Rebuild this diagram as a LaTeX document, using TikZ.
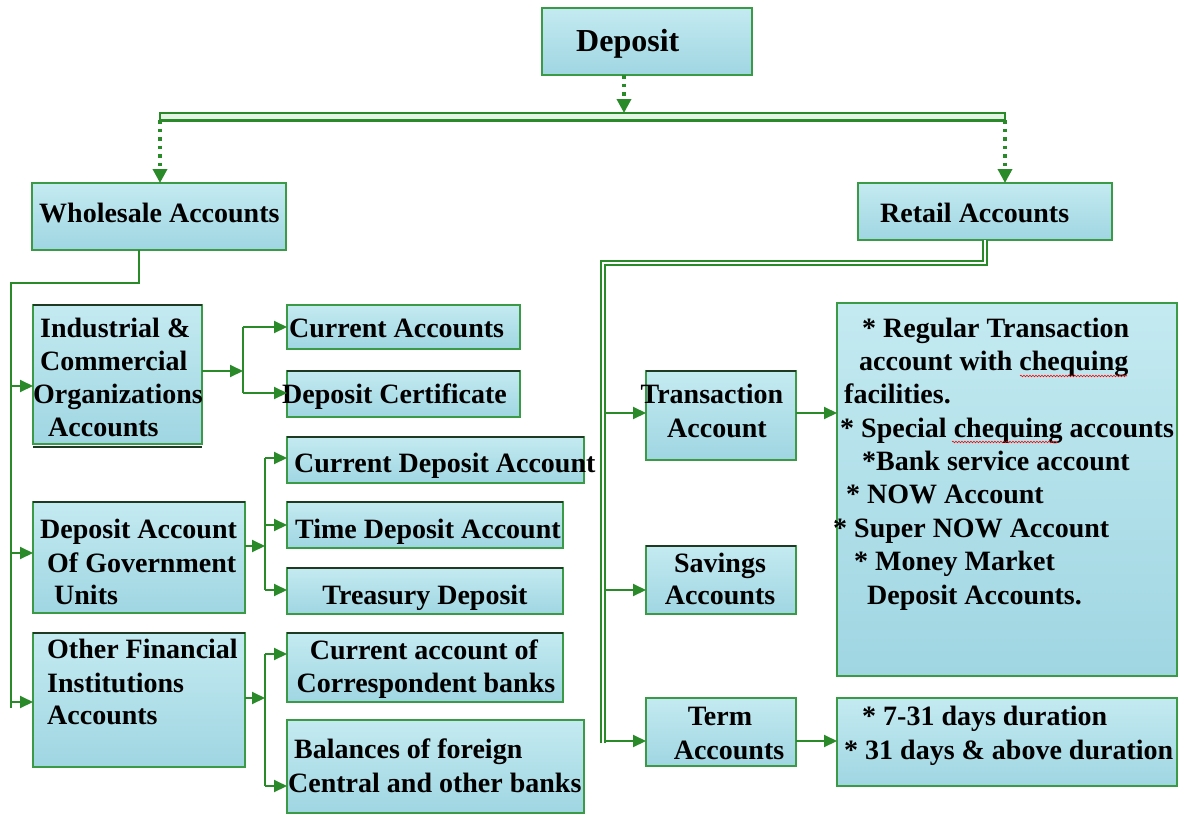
\documentclass[tikz,border=0pt]{standalone}
\usepackage{fontspec}
\setmainfont{Liberation Serif}
\usetikzlibrary{arrows.meta,fit,decorations.pathmorphing}
\definecolor{lineg}{HTML}{2A8A2A}
\definecolor{boxg}{HTML}{3A9A46}
\definecolor{darkedge}{HTML}{1E3A22}
\definecolor{aquaT}{HTML}{C4EAF1}
\definecolor{aquaB}{HTML}{9FD6E2}
\definecolor{barfill}{HTML}{E4F4E4}
\newcommand\tl[4]{\node[txt,anchor=base west] (#1) at (#2,#3) {#4};}
\newcommand\tc[4]{\node[txt,anchor=base] (#1) at (#2,#3) {#4};}
\begin{document}
\begin{tikzpicture}[x=1pt,y=-1pt,
 box/.style={draw=boxg,line width=1.8pt,top color=aquaT,bottom color=aquaB,inner sep=0pt,outer sep=0pt},
 txt/.style={font=\fontsize{28}{33}\selectfont\bfseries,inner sep=0pt,text=black},
 conn/.style={draw=lineg,line width=2pt},
 arr/.style={conn,-{Triangle[length=13pt,width=12pt]}},
 darr/.style={draw=lineg,line width=3.5pt,dash pattern=on 3.5pt off 5pt,-{Triangle[length=14pt,width=14pt]}},
 dbl/.style={draw=lineg,double=white,line width=1.5pt,double distance=2.5pt},
 topedge/.style={draw=darkedge,line width=2pt},
 wavy/.style={draw=red,line width=0.6pt,decorate,decoration={snake,amplitude=0.8pt,segment length=3pt}}]
\useasboundingbox (0,0) rectangle (1180,816);

% boxes
\node[box,fit={(542,8)(752,75)}] (dep) {};
\node[draw=lineg,line width=1.5pt,fill=barfill,inner sep=0pt,outer sep=0pt,fit={(160,113)(1005,120)}] (bar) {};
\draw[draw=lineg,line width=3pt] (bar.south west) -- (bar.south east);
\node[box,fit={(32,183)(286,250)}] (ws) {};
\node[box,fit={(858,183)(1112,240)}] (rt) {};
\node[box,fit={(33,305)(202,444)}] (ind) {};
\node[box,fit={(287,305)(520,349)}] (ca) {};
\node[box,fit={(287,371)(520,417)}] (dc) {};
\node[box,fit={(287,437)(584,483)}] (cda) {};
\node[box,fit={(287,502)(563,548)}] (tda) {};
\node[box,fit={(33,502)(245,613)}] (gov) {};
\node[box,fit={(287,568)(563,614)}] (td) {};
\node[box,fit={(33,633)(245,767)}] (oth) {};
\node[box,fit={(287,633)(563,702)}] (cacb) {};
\node[box,fit={(287,720)(584,813)}] (bal) {};
\node[box,fit={(646,371)(796,460)}] (tr) {};
\node[box,fit={(837,303)(1177,676)}] (big) {};
\node[box,fit={(646,546)(796,614)}] (sav) {};
\node[box,fit={(646,698)(796,766)}] (term) {};
\node[box,fit={(837,698)(1177,786)}] (termd) {};

% darker top edges
\foreach \b in {ind,dc,cda,tda,td,gov,oth,cacb,tr,sav}
  \draw[topedge] (\b.north west) -- (\b.north east);
\draw[topedge] ([yshift=-3pt]ind.south west) -- ([yshift=-3pt]ind.south east);

% texts
\node[txt,font=\fontsize{32}{36}\selectfont\bfseries,anchor=base west] (tdep) at (576,52) {Deposit};
\tl{tws}{39}{222}{Wholesale Accounts}
\tl{trt}{880}{222}{Retail Accounts}
\tl{tind1}{40}{337}{Industrial \&}
\tl{tind2}{40}{370}{Commercial}
\tl{tind3}{33}{403}{Organizations}
\tl{tind4}{48}{436}{Accounts}
\tl{tca}{289}{337}{Current Accounts}
\tl{tdc}{282}{403}{Deposit Certificate}
\tl{tcda}{294}{472}{Current Deposit Account}
\tl{ttda}{295}{538}{Time Deposit Account}
\tl{tgov1}{40}{538}{Deposit Account}
\tl{tgov2}{47}{572}{Of Government}
\tl{tgov3}{54}{604}{Units}
\tc{ttd}{425}{604}{Treasury Deposit}
\tl{toth1}{47}{658}{Other Financial}
\tl{toth2}{47}{692}{Institutions}
\tl{toth3}{47}{724}{Accounts}
\tc{tcacb1}{424}{659}{Current account of}
\tc{tcacb2}{426}{692}{Correspondent banks}
\tl{tbal1}{294}{758}{Balances of foreign}
\tl{tbal2}{288}{792}{Central and other banks}
\tc{ttr1}{712}{403}{Transaction}
\tc{ttr2}{717}{437}{Account}
\tl{tbig1}{862}{337}{* Regular Transaction}
\tl{tbig2}{859}{370}{account with chequing}
\tl{tbig3}{844}{403}{facilities.}
\tl{tbig4}{840}{437}{* Special chequing accounts}
\tl{tbig5}{862}{470}{*Bank service account}
\tl{tbig6}{846}{503}{* NOW Account}
\tl{tbig7}{833}{537}{* Super NOW Account}
\tl{tbig8}{854}{570}{* Money Market}
\tl{tbig9}{867}{604}{Deposit Accounts.}
\tc{tsav1}{720}{572}{Savings}
\tc{tsav2}{720}{604}{Accounts}
\tc{tterm1}{720}{725}{Term}
\tc{tterm2}{729}{759}{Accounts}
\tl{ttd1}{862}{725}{* 7-31 days duration}
\tl{ttd2}{844}{759}{* 31 days \& above duration}

% spell-check squiggles
\draw[wavy] (1020,376) -- (1127,376);
\draw[wavy] (952,442) -- (1058,442);

% top connectors
\draw[darr] (dep.south -| 624,0) -- (bar.north -| 624,0);
\draw[darr] (bar.south -| 160,0) -- (ws.north -| 160,0);
\draw[darr] (bar.south -| 1005,0) -- (rt.north -| 1005,0);

% wholesale tree
\coordinate (lt) at (11,708);
\draw[conn] (ws.south -| 139,0) |- (11,283) -- (lt);
\draw[arr] (11,386) -- (ind.west |- 0,386);
\draw[arr] (11,553) -- (gov.west |- 0,553);
\draw[arr] (11,702) -- (oth.west |- 0,702);

\coordinate (b1) at (243,371);
\draw[arr] (ind.east |- b1) -- (b1);
\draw[conn] (243,327) -- (243,393);
\draw[arr] (243,327) -- (ca.west |- 0,327);
\draw[arr] (243,393) -- (dc.west |- 0,393);

\coordinate (b2) at (265,546);
\draw[arr] (gov.east |- b2) -- (b2);
\draw[conn] (265,458) -- (265,590);
\draw[arr] (265,458) -- (cda.west |- 0,458);
\draw[arr] (265,525) -- (tda.west |- 0,525);
\draw[arr] (265,590) -- (td.west |- 0,590);

\coordinate (b3) at (265,698);
\draw[arr] (oth.east |- b3) -- (b3);
\draw[conn] (265,654) -- (265,786);
\draw[arr] (265,654) -- (cacb.west |- 0,654);
\draw[arr] (265,786) -- (bal.west |- 0,786);

% retail tree
\coordinate (rtr) at (603,743);
\draw[dbl] (rt.south -| 985,0) |- (603,263) -- (rtr);
\draw[arr] (605,413) -- (tr.west |- 0,413);
\draw[arr] (605,590) -- (sav.west |- 0,590);
\draw[arr] (605,741) -- (term.west |- 0,741);
\draw[arr] (tr.east |- 0,413) -- (big.west |- 0,413);
\draw[arr] (term.east |- 0,741) -- (termd.west |- 0,741);
\end{tikzpicture}
\end{document}
